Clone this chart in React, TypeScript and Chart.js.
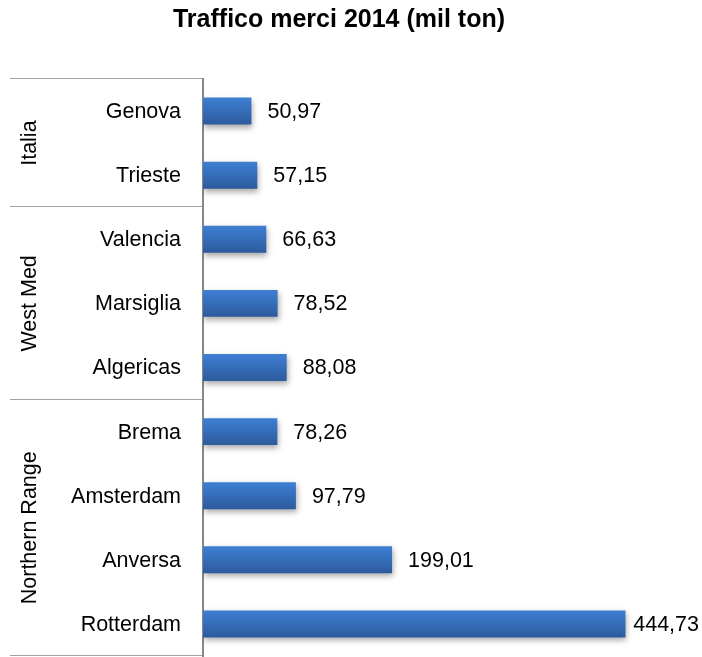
import React, { useEffect, useRef } from 'react';
import { Chart, registerables } from 'chart.js';

Chart.register(...registerables);

const TITLE = 'Traffico merci 2014 (mil ton)';
const PORTS = ['Genova', 'Trieste', 'Valencia', 'Marsiglia', 'Algericas', 'Brema', 'Amsterdam', 'Anversa', 'Rotterdam'];
const TRAFFIC = [50.97, 57.15, 66.63, 78.52, 88.08, 78.26, 97.79, 199.01, 444.73];
const GROUPS = ['Italia', 'West Med', 'Northern Range'];
const GROUP_SIZES = [2, 3, 4];
const X_MIN = 0;
const X_MAX = 500;

const FONT = "'Liberation Sans', Arial, sans-serif";
const LABEL_SIZE = 21.5;
const BAR_FRACTION = 0.42;

const fmt = (v: number) => v.toFixed(2).replace('.', ',');

const groupPlugin = {
  id: 'groupAxis',
  afterDraw(chart: any) {
    const { ctx, chartArea, scales } = chart;
    const y = scales.y;
    const step = y.getPixelForValue(1) - y.getPixelForValue(0);
    const bounds: number[] = [y.getPixelForValue(0) - step / 2];
    let idx = 0;
    GROUP_SIZES.forEach((n) => {
      idx += n;
      bounds.push(y.getPixelForValue(idx - 1) + step / 2);
    });
    ctx.save();
    ctx.strokeStyle = '#a3a3a3';
    ctx.lineWidth = 1;
    bounds.forEach((b) => {
      const yy = Math.round(b) - 0.5;
      ctx.beginPath();
      ctx.moveTo(10, yy);
      ctx.lineTo(chartArea.left - 1, yy);
      ctx.stroke();
    });
    ctx.fillStyle = '#000';
    ctx.font = `${LABEL_SIZE}px ${FONT}`;
    ctx.textAlign = 'center';
    ctx.textBaseline = 'alphabetic';
    GROUPS.forEach((g, i) => {
      const cy = (bounds[i] + bounds[i + 1]) / 2;
      ctx.save();
      ctx.translate(36, cy);
      ctx.rotate(-Math.PI / 2);
      ctx.fillText(g, 0, 0);
      ctx.restore();
    });
    ctx.restore();
  },
};

const barDecorPlugin = {
  id: 'barDecor',
  beforeDatasetsDraw(chart: any) {
    const ctx = chart.ctx;
    ctx.save();
    ctx.shadowColor = 'rgba(0,0,0,0.35)';
    ctx.shadowBlur = 6;
    ctx.shadowOffsetX = 1;
    ctx.shadowOffsetY = 3;
  },
  afterDatasetsDraw(chart: any) {
    const ctx = chart.ctx;
    ctx.restore();
    ctx.save();
    ctx.fillStyle = '#000';
    ctx.font = `${LABEL_SIZE}px ${FONT}`;
    ctx.textAlign = 'left';
    ctx.textBaseline = 'middle';
    const meta = chart.getDatasetMeta(0);
    meta.data.forEach((bar: any, i: number) => {
      const txt = fmt(TRAFFIC[i]);
      const w = ctx.measureText(txt).width;
      const x = Math.min(bar.x + 16, chart.width - 3 - w);
      ctx.fillText(txt, x, bar.y + 1);
    });
    ctx.restore();
  },
};

export default function App() {
  const canvasRef = useRef<HTMLCanvasElement | null>(null);

  useEffect(() => {
    const canvas = canvasRef.current;
    if (!canvas) return;
    const chart = new Chart(canvas, {
      type: 'bar',
      data: {
        labels: PORTS,
        datasets: [
          {
            data: TRAFFIC,
            categoryPercentage: 1,
            barPercentage: BAR_FRACTION,
            borderWidth: 0,
            backgroundColor: (c: any) => {
              const ch = c.chart;
              const y = ch.scales && ch.scales.y;
              if (c.type !== 'data' || !y) return '#3570bd';
              const cy = y.getPixelForValue(c.dataIndex);
              const step = Math.abs(y.getPixelForValue(1) - y.getPixelForValue(0));
              const h = (step * BAR_FRACTION) / 2;
              if (!isFinite(cy) || !isFinite(h) || h <= 0) return '#3570bd';
              const g = ch.ctx.createLinearGradient(0, cy - h, 0, cy + h);
              g.addColorStop(0, '#3e7fd3');
              g.addColorStop(1, '#2c5b9d');
              return g;
            },
          },
        ],
      },
      options: {
        indexAxis: 'y',
        animation: false,
        responsive: true,
        maintainAspectRatio: false,
        layout: { padding: { left: 0, right: 24, top: 0, bottom: 1 } },
        plugins: {
          legend: { display: false },
          tooltip: { enabled: false },
          title: {
            display: true,
            text: TITLE,
            color: '#000',
            font: { family: FONT, size: 25, weight: 'bold', lineHeight: 1.2 },
            padding: { top: 5, bottom: 44 },
          },
        },
        scales: {
          x: { display: false, min: X_MIN, max: X_MAX },
          y: {
            type: 'category',
            position: 'left',
            grid: { display: false, drawTicks: false },
            border: { display: true, color: '#878787', width: 2 },
            ticks: {
              color: '#000',
              font: { family: FONT, size: LABEL_SIZE },
              padding: 22,
              labelOffset: 1,
              autoSkip: false,
            },
            afterFit(s: any) {
              s.width = 203;
              s.paddingTop = 0;
              s.paddingBottom = 0;
            },
          },
        },
      },
      plugins: [groupPlugin, barDecorPlugin],
    } as any);
    return () => chart.destroy();
  }, []);

  return (
    <div style={{ position: 'fixed', left: 0, top: 0, width: 702, height: 657, background: '#fff' }}>
      <canvas ref={canvasRef} />
    </div>
  );
}
